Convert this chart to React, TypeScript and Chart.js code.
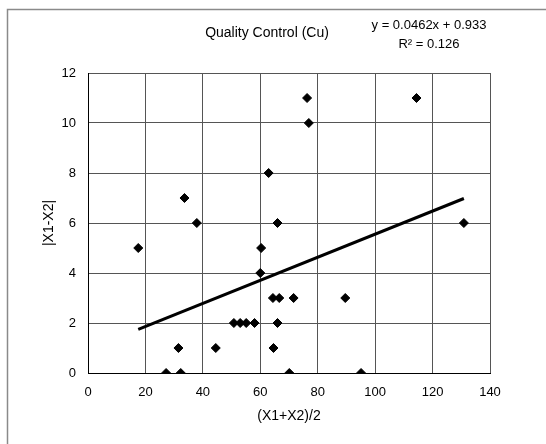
import React, { useEffect, useRef } from "react";
import { Chart, registerables } from "chart.js";

Chart.register(...registerables);

const chartTitle = "Quality Control (Cu)";
const equationLines = ["y = 0.0462x + 0.933", "R² = 0.126"];
const xAxisTitle = "(X1+X2)/2";
const yAxisTitle = "|X1-X2|";

const xValues = [17.5, 27.2, 31.5, 32.3, 33.6, 37.9, 44.5, 50.8, 53, 55.1, 58, 60, 60.3, 62.9, 64.4, 64.6, 66, 66, 66.6, 70.1, 71.6, 76.3, 76.9, 89.6, 95.1, 114.4, 130.9];
const yValues = [5, 0, 1, 0, 7, 6, 1, 2, 2, 2, 2, 4, 5, 8, 3, 1, 6, 2, 3, 0, 3, 11, 10, 3, 0, 11, 6];

const trendSlope = 0.0462;
const trendIntercept = 0.933;

const xMin = 0, xMax = 140, xStep = 20;
const yMin = 0, yMax = 12, yStep = 2;

const FONT = "'Liberation Sans', Arial, sans-serif";

export default function App() {
  const ref = useRef<HTMLCanvasElement | null>(null);

  useEffect(() => {
    if (!ref.current) return;
    const points = xValues.map((x, i) => ({ x, y: yValues[i] }));
    const lo = Math.min(...xValues);
    const hi = Math.max(...xValues);
    const trend = [lo, hi].map((x) => ({ x, y: trendSlope * x + trendIntercept }));

    const decor = {
      id: "decor",
      beforeDraw(chart: any) {
        const ctx = chart.ctx;
        ctx.save();
        ctx.fillStyle = "#ffffff";
        ctx.fillRect(0, 0, chart.width, chart.height);
        ctx.strokeStyle = "#8a8a8a";
        ctx.lineWidth = 1.5;
        ctx.strokeRect(7.5, 9.5, 600, 500);
        ctx.restore();
      },
      afterDraw(chart: any) {
        const ctx = chart.ctx;
        ctx.save();
        ctx.fillStyle = "#000";
        ctx.textAlign = "center";
        ctx.textBaseline = "middle";
        ctx.font = `14px ${FONT}`;
        ctx.fillText(chartTitle, 267, 33);
        ctx.font = `13px ${FONT}`;
        ctx.fillText(equationLines[0], 429, 25);
        ctx.fillText(equationLines[1], 429, 44);
        ctx.restore();
      },
    };

    const chart = new Chart(ref.current, {
      type: "scatter",
      data: {
        datasets: [
          {
            type: "scatter",
            data: points,
            pointStyle: "rectRot",
            pointRadius: 4.5,
            backgroundColor: "#000",
            borderColor: "#000",
            borderWidth: 1,
            order: 1,
          },
          {
            type: "line",
            data: trend,
            borderColor: "#000",
            borderWidth: 3,
            pointRadius: 0,
            fill: false,
            order: 2,
          } as any,
        ],
      },
      options: {
        animation: false,
        responsive: false,
        devicePixelRatio: 1,
        layout: { padding: { left: 0, top: 73, right: 56, bottom: 0 } },
        plugins: { legend: { display: false }, tooltip: { enabled: false }, title: { display: false } },
        scales: {
          x: {
            type: "linear",
            min: xMin,
            max: xMax,
            ticks: { stepSize: xStep, padding: 12, color: "#000", font: { family: FONT, size: 13 } },
            grid: { color: "#555", lineWidth: 1, drawTicks: false },
            border: { color: "#000", width: 1 },
            title: { display: true, text: xAxisTitle, color: "#000", font: { family: FONT, size: 14 }, padding: { top: 19, bottom: 19 } },
            afterFit: (s: any) => { s.height = 71; },
          },
          y: {
            type: "linear",
            min: yMin,
            max: yMax,
            ticks: { stepSize: yStep, padding: 12, color: "#000", font: { family: FONT, size: 13 } },
            grid: { color: "#555", lineWidth: 1, drawTicks: false },
            border: { color: "#000", width: 1 },
            title: { display: true, text: yAxisTitle, color: "#000", font: { family: FONT, size: 14 }, padding: { top: 41, bottom: 41 } },
            afterFit: (s: any) => { s.width = 88; },
          },
        },
      },
      plugins: [decor],
    });
    return () => chart.destroy();
  }, []);

  return (
    <div style={{ position: "absolute", left: 0, top: 0, width: 546, height: 444 }}>
      <canvas ref={ref} width={546} height={444} style={{ width: 546, height: 444, display: "block" }} />
    </div>
  );
}
